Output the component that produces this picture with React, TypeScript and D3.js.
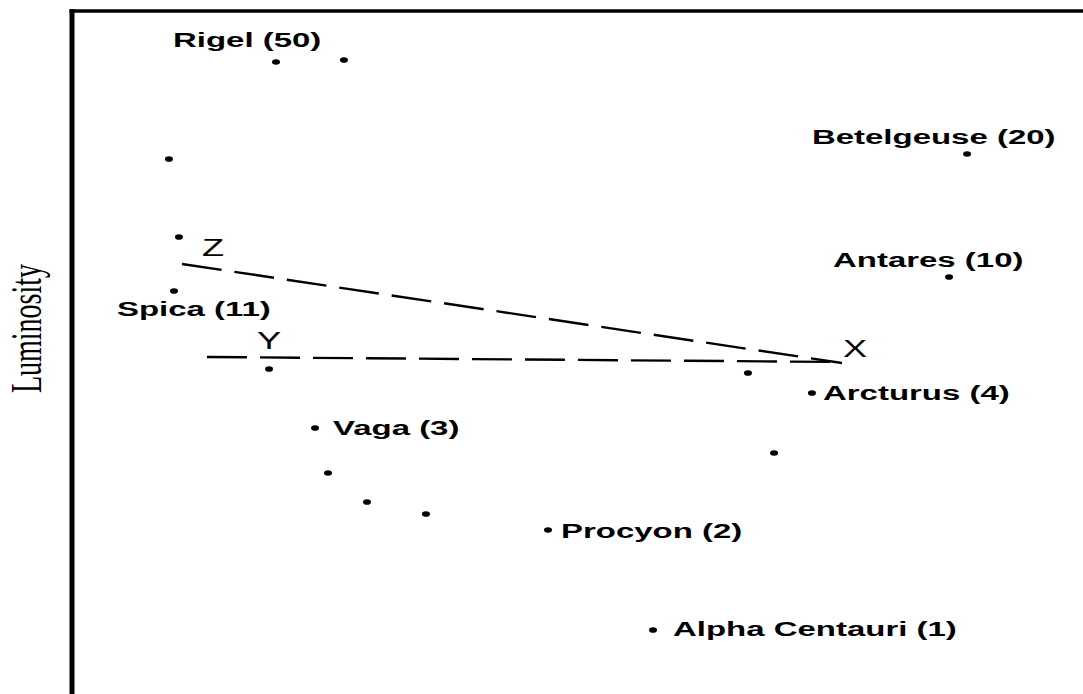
import React from "react";
import * as d3 from "d3";

// Star positions (arbitrary temperature-like x units, luminosity-like y units, 0-100)
const starX = [20.18, 26.9, 9.59, 10.58, 10.09, 19.49, 24.04, 25.32, 29.18, 35.01, 47.08, 57.47, 66.86, 73.19, 69.44, 86.75, 88.53];
const starY = [92.53, 92.83, 78.33, 66.91, 59.0, 47.58, 38.95, 32.36, 28.11, 26.35, 24.01, 9.37, 47.0, 44.07, 35.29, 61.05, 79.06];

// Star name labels (left x, baseline y in data units)
const labelText = ["Rigel (50)", "Betelgeuse (20)", "Antares (10)", "Spica (11)", "Vaga (3)", "Arcturus (4)", "Procyon (2)", "Alpha Centauri (1)"];
const labelX = [9.99, 73.19, 75.27, 4.45, 25.82, 74.28, 48.37, 59.45];
const labelY = [94.73, 80.53, 62.52, 55.34, 37.93, 43.05, 22.84, 8.49];

// Dashed guide lines Z–X and Y–X
const lineNames = ["ZX", "YX"];
const lineX1 = [10.88, 13.35];
const lineY1 = [62.96, 49.34];
const lineX2 = [76.16, 76.16];
const lineY2 = [48.46, 48.61];

// Point letters
const letterText = ["Z", "Y", "X"];
const letterX = [12.86, 18.3, 76.26];
const letterY = [64.13, 50.51, 49.34];

const W = 1083;
const H = 694;
const STRETCH = 1.57;

export default function App() {
  const x = d3.scaleLinear().domain([0, 100]).range([72, 1083]);
  const y = d3.scaleLinear().domain([0, 100]).range([694, 11]);

  return (
    <svg width={W} height={H} style={{ position: "absolute", left: 0, top: 0, background: "#fff" }}>
      {/* frame */}
      <line x1={x(0)} x2={x(0)} y1={y(100) - 1.7} y2={y(0)} stroke="#000" strokeWidth={5} />
      <line x1={x(0) - 2.5} x2={x(100)} y1={y(100)} y2={y(100)} stroke="#000" strokeWidth={3.5} />

      {/* axis title */}
      <text
        transform={`translate(41, 328.5) scale(1.55,1) rotate(-90)`}
        textAnchor="middle"
        fontFamily="'Liberation Serif', 'DejaVu Serif', serif"
        fontSize={28}
        fill="#000"
      >
        Luminosity
      </text>

      {/* dashed lines */}
      {lineNames.map((n, i) => (
        <line
          key={n}
          x1={x(lineX1[i])}
          y1={y(lineY1[i])}
          x2={x(lineX2[i])}
          y2={y(lineY2[i])}
          stroke="#000"
          strokeWidth={2.4}
          strokeDasharray="40 13"
        />
      ))}

      {/* stars */}
      {starX.map((v, i) => (
        <ellipse key={i} cx={x(v)} cy={y(starY[i])} rx={4} ry={2.8} fill="#000" />
      ))}

      {/* labels */}
      {labelText.map((t, i) => (
        <text
          key={t}
          transform={`translate(${x(labelX[i])}, ${y(labelY[i])}) scale(${STRETCH},1)`}
          fontFamily="'Liberation Sans', Arial, sans-serif"
          fontWeight="bold"
          fontSize={21}
          fill="#000"
        >
          {t}
        </text>
      ))}

      {/* letters */}
      {letterText.map((t, i) => (
        <text
          key={t}
          transform={`translate(${x(letterX[i])}, ${y(letterY[i])}) scale(${STRETCH},1)`}
          fontFamily="'Liberation Sans', Arial, sans-serif"
          fontSize={23}
          fill="#000"
        >
          {t}
        </text>
      ))}
    </svg>
  );
}
